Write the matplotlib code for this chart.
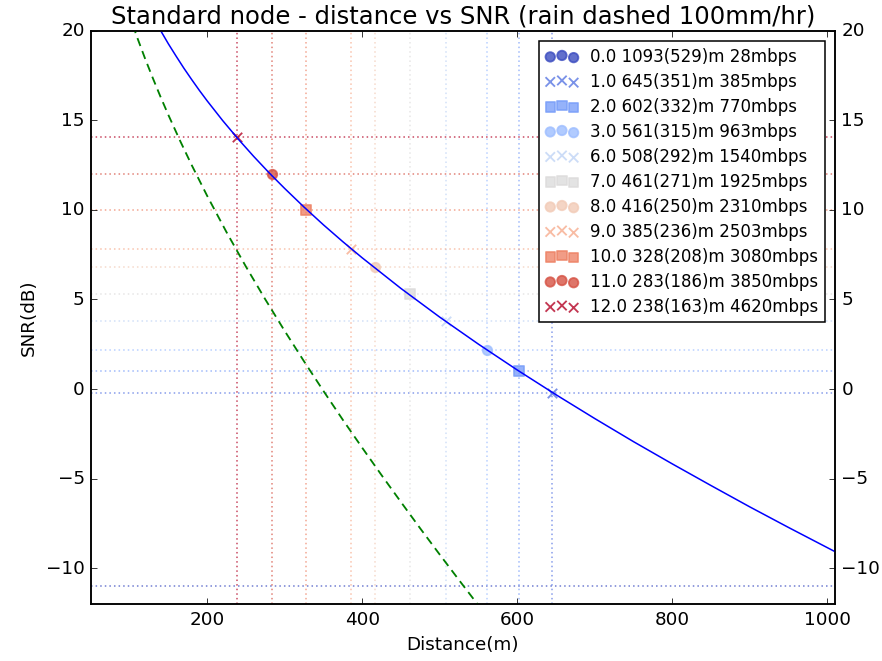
import matplotlib
matplotlib.use("Agg")
import matplotlib.pyplot as plt
import numpy as np

# MCS table: snr threshold, range (clear / rain), rate
mcs = [0.0, 1.0, 2.0, 3.0, 6.0, 7.0, 8.0, 9.0, 10.0, 11.0, 12.0]
snr_thr = [-11.0, -0.2, 1.0, 2.2, 3.8, 5.3, 6.8, 7.8, 10.0, 12.0, 14.05]
dist = [1093, 645, 602, 561, 508, 461, 416, 385, 328, 283, 238]
dist_rain = [529, 351, 332, 315, 292, 271, 250, 236, 208, 186, 163]
rate = [28, 385, 770, 963, 1540, 1925, 2310, 2503, 3080, 3850, 4620]

# SNR curve, clear sky
d_clear = [120, 130, 140, 150, 160, 170, 180, 190, 200, 220, 240, 260, 280, 300,
           325, 350, 375, 400, 450, 500, 550, 600, 650, 700, 750, 800, 850, 900,
           950, 1010]
snr_clear = [21.61, 20.78, 20.00, 19.26, 18.57, 17.90, 17.27, 16.66, 16.08, 14.98,
             13.95, 12.98, 12.06, 11.19, 10.15, 9.16, 8.22, 7.32, 5.61, 4.01, 2.50,
             1.06, -0.32, -1.65, -2.94, -4.18, -5.39, -6.58, -7.73, -9.08]

# SNR curve, 100mm/hr rain
d_rain = [90, 100, 110, 120, 130, 140, 150, 165, 180, 200, 225, 250, 275, 300,
          325, 350, 375, 400, 425, 450, 475, 500, 525, 550, 575]
snr_rain = [22.14, 20.82, 19.59, 18.43, 17.34, 16.29, 15.29, 13.86, 12.50, 10.78,
            8.75, 6.83, 5.00, 3.24, 1.54, -0.11, -1.72, -3.28, -4.81, -6.31, -7.79,
            -9.24, -10.67, -12.08, -13.47]

markers = ['o', 'x', 's']

plt.style.use('classic')
fig = plt.figure(figsize=(8, 6), dpi=110.25, facecolor='white')
ax = fig.add_subplot(111)
fig.subplots_adjust(left=0.103, right=0.947, top=0.953, bottom=0.086)

ax.plot(d_clear, snr_clear, color='b', lw=1.0, zorder=4)
ax.plot(d_rain, snr_rain, color='g', ls='--', dashes=(5.5, 3.5), lw=1.2, zorder=4)

cols = plt.cm.coolwarm(np.linspace(0, 1, len(mcs)))
for i in range(len(mcs)):
    c = cols[i]
    ax.axhline(snr_thr[i], color=c, ls=':', dashes=(1, 2), lw=1.1, alpha=0.65, zorder=1)
    ax.axvline(dist[i], color=c, ls=':', dashes=(1, 2), lw=1.1, alpha=0.65, zorder=1)
    lab = "%.1f %d(%d)m %dmbps" % (mcs[i], dist[i], dist_rain[i], rate[i])
    ax.scatter([dist[i]], [snr_thr[i]], s=38, color=c, marker=markers[i % 3],
               alpha=0.8, linewidths=1.2, label=lab, zorder=3)

ax.set_xlim(50, 1010)
ax.set_ylim(-12, 20)
ax.set_xlabel("Distance(m)")
ax.set_ylabel("SNR(dB)")
ax.set_title("Standard node - distance vs SNR (rain dashed 100mm/hr)", fontsize=15.8)

ax2 = ax.twinx()
ax2.set_ylim(-12, 20)

leg = ax.legend(loc='upper right', scatterpoints=3, fontsize=10.9,
                fancybox=False, borderaxespad=0.6, handletextpad=0.7,
                handlelength=2.0, labelspacing=0.42, borderpad=0.4)
leg.get_frame().set_edgecolor('black')

fig.savefig("out.png", dpi=110.25, facecolor='white')
